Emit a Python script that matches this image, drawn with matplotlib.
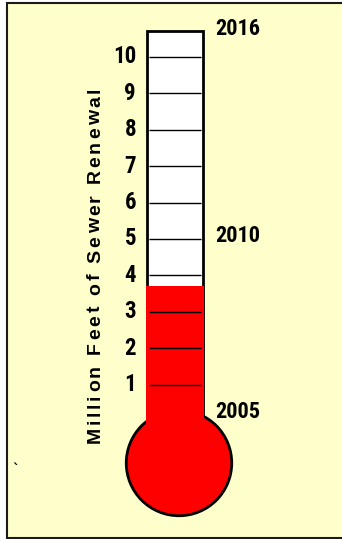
import matplotlib
matplotlib.use("Agg")
import matplotlib.pyplot as plt
from matplotlib.patches import Rectangle, Ellipse
from matplotlib.font_manager import FontProperties, findfont
from matplotlib.ft2font import FT2Font

# ---------------- data ----------------
progress = 3.7                      # million feet renewed so far
scale_ticks = [1, 2, 3, 4, 5, 6, 7, 8, 9, 10]
tick_labels = ["1", "2", "3", "4", "5", "6", "7", "8", "9", "10"]
year_labels = ["2005", "2010", "2016"]
year_levels = [0.25, 5.08, 10.77]
axis_title = "Million Feet of Sewer Renewal"

# ---------------- layout ----------------
W, H, DPI = 342, 539, 100
PX_PER_UNIT = 36.4
ZERO_PX = 421.0
SCALE_TOP = 10.72
BG = "#FFFFCC"
RED = "#FF0000"
NARROW = ["Liberation Sans Narrow", "Roboto Condensed", "Liberation Sans"]

fig = plt.figure(figsize=(W / DPI, H / DPI), dpi=DPI)
fig.patch.set_facecolor("white")

# background panel (pixel coordinates)
bg = fig.add_axes([0, 0, 1, 1])
bg.set_xlim(0, W)
bg.set_ylim(H, 0)
bg.axis("off")
bg.add_patch(Rectangle((7, 3), W, 535, facecolor=BG, edgecolor="none"))
bg.plot([W + 5, 7, 7, W + 5], [3, 3, 538, 538], color="#1a1a1a", lw=1.5,
        solid_joinstyle="miter", clip_on=False)
bg.text(16, 470, "`", fontsize=10, fontweight="bold", ha="center",
        va="center", color="black")

# thermometer axes: y in million feet
ax = fig.add_axes([0, 0, 1, 1], facecolor="none")
ax.set_xlim(0, W)
ax.set_ylim((ZERO_PX - H) / PX_PER_UNIT, ZERO_PX / PX_PER_UNIT)
ax.axis("off")

tube_x0, tube_w = 147.4, 55.2
bulb_cx, bulb_cy_px, bulb_d = 179.0, 463.0, 105.5
bulb_cy = (ZERO_PX - bulb_cy_px) / PX_PER_UNIT

# glass tube
ax.add_patch(Rectangle((tube_x0, -0.8), tube_w, SCALE_TOP + 0.8,
                       facecolor="white", edgecolor="black", lw=2.0,
                       joinstyle="miter", zorder=2))
# bulb
ax.add_patch(Ellipse((bulb_cx, bulb_cy), bulb_d, bulb_d / PX_PER_UNIT,
                     facecolor=RED, edgecolor="black", lw=2.0, zorder=3))
# mercury column
ax.add_patch(Rectangle((tube_x0 - 1.4, bulb_cy), tube_w + 2.8,
                       progress - bulb_cy, facecolor=RED, edgecolor="none",
                       zorder=4))
# scale lines
ax.hlines(scale_ticks, tube_x0 + 1.2, tube_x0 + tube_w - 1.2,
          colors="black", lw=1.0, zorder=5)

for v, lbl in zip(scale_ticks, tick_labels):
    ax.text(136, v, lbl, ha="right", va="center", fontsize=16.5,
            fontweight="bold", family=NARROW, zorder=6)

for v, lbl in zip(year_levels, year_labels):
    ax.text(215, v, lbl, ha="left", va="center", fontsize=16,
            fontweight="bold", family=NARROW, zorder=6)

# letter-spaced vertical title
prop = FontProperties(family="Liberation Sans", weight="bold", size=14)
font = FT2Font(findfont(prop))
font.set_size(14, DPI)
adv = []
for ch in axis_title:
    g = font.load_char(ord(ch))
    adv.append(g.linearHoriAdvance / 65536.0)
y_bottom, y_top = 443.0, 90.0
sp = ((y_bottom - y_top) - sum(adv[:-1]) - adv[-1] * 0.6) / (len(axis_title) - 1)
y = y_bottom
for ch, a in zip(axis_title, adv):
    if ch != " ":
        bg.text(100, y, ch, rotation=90, rotation_mode="anchor", ha="left",
                va="baseline", fontproperties=prop, color="black")
    y -= a + sp

fig.savefig("out.png", dpi=DPI, facecolor=fig.get_facecolor())
